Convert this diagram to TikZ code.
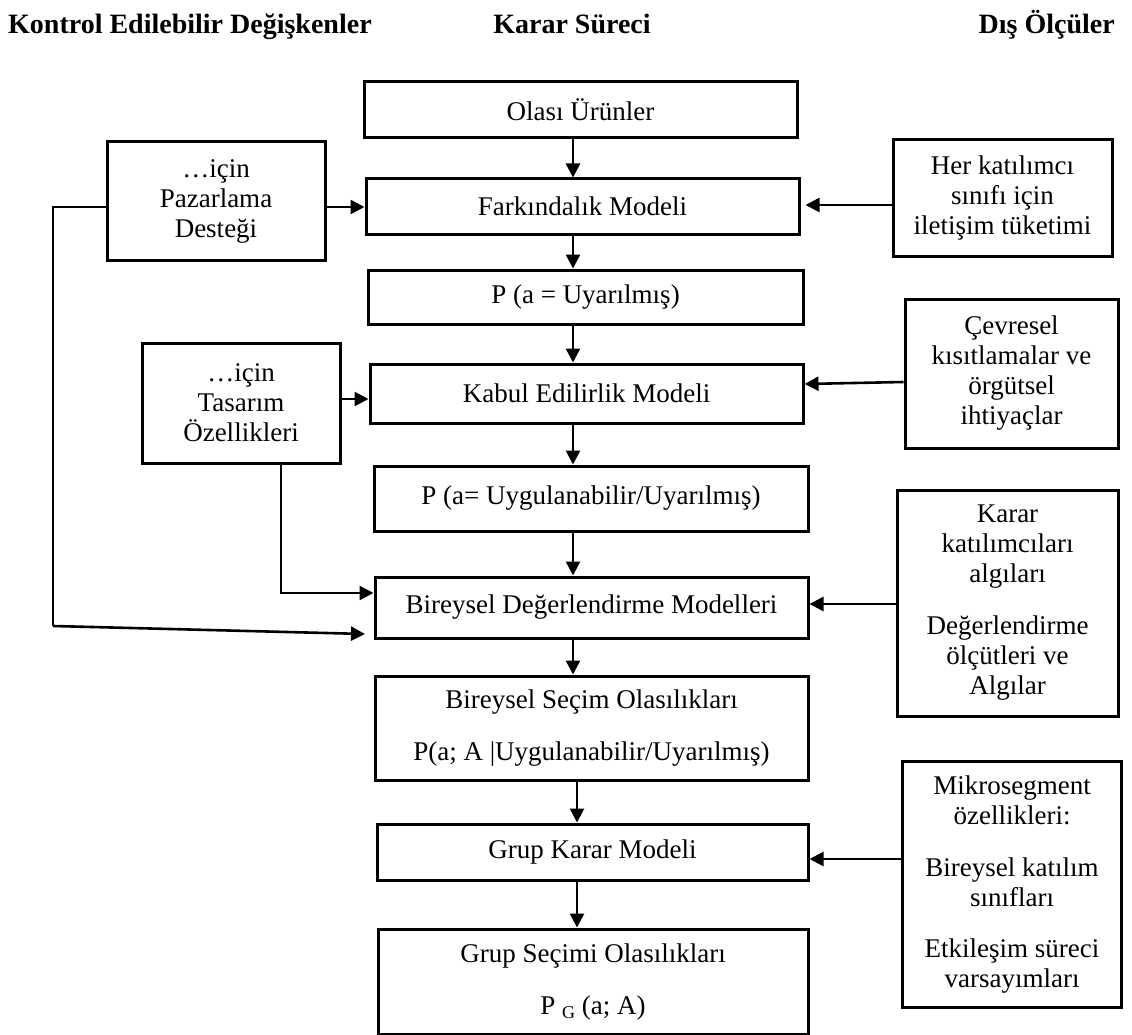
\documentclass[tikz,border=0pt]{standalone}
\usepackage{fontspec}
\setmainfont{Liberation Serif}
\usetikzlibrary{arrows.meta,calc}

\tikzset{
  box/.style={draw, line width=3pt, rectangle, inner sep=0pt, align=center,
              font=\fontsize{27}{30}\selectfont},
  arr/.style={line width=2.6pt, -{Triangle[length=14pt,width=14pt]}},
  thin/.style={line width=1.6pt},
  head/.style={font=\fontsize{28}{32}\selectfont\bfseries, inner sep=0pt}
}

\begin{document}
\begin{tikzpicture}[x=1pt,y=-1pt]
\useasboundingbox (0,0) rectangle (1132,1035);

% column headings
\node[head, anchor=base west] (h1) at (8,34) {Kontrol Edilebilir Değişkenler};
\node[head, anchor=base] (h2) at (572,34) {Karar Süreci};
\node[head, anchor=base east] (h3) at (1115,34) {Dış Ölçüler};

% central decision chain
\node[box, minimum width=433, minimum height=56] (olasi) at (580.5,110) {Olası Ürünler};
\node[box, minimum width=433, minimum height=55] (fark) at (582.5,206.5) {Farkındalık Modeli};
\node[box, minimum width=435, minimum height=54] (pua) at (585.5,297) {P (a = Uyarılmış)};
\node[box, minimum width=433, minimum height=59] (kabul) at (586.5,393.5) {Kabul Edilirlik Modeli};
\node[box, minimum width=434, minimum height=65] (pug) at (591,498.5) {P (a= Uygulanabilir/Uyarılmış)};
\node[box, minimum width=433, minimum height=61] (bdm) at (591.5,607.5) {Bireysel Değerlendirme Modelleri};
\node[box, minimum width=433, minimum height=104] (bso) at (591.5,728)
  {Bireysel Seçim Olasılıkları\\[22pt]P(a; A |Uygulanabilir/Uyarılmış)};
\node[box, minimum width=431, minimum height=56] (gkm) at (592.5,852) {Grup Karar Modeli};
\node[box, minimum width=430, minimum height=105] (gso) at (593,981.5)
  {Grup Seçimi Olasılıkları\\[22pt]P \raisebox{-4pt}{\fontsize{18}{18}\selectfont G} (a; A)};

% controllable variables
\node[box, minimum width=218, minimum height=118] (paz) at (216,201) {…için\\Pazarlama\\Desteği};
\node[box, minimum width=198, minimum height=120] (tas) at (241,403) {…için\\Tasarım\\Özellikleri};

% external measures
\node[box, minimum width=219, minimum height=116] (her) at (1002.5,198)
  {Her katılımcı\\sınıfı için\\iletişim tüketimi};
\node[box, minimum width=213, minimum height=149] (cev) at (1011.5,373.5)
  {Çevresel\\kısıtlamalar ve\\örgütsel\\ihtiyaçlar};
\node[box, minimum width=221, minimum height=226] (kat) at (1007.5,603)
  {Karar\\katılımcıları\\algıları\\[22pt]Değerlendirme\\ölçütleri ve\\Algılar};
\node[box, minimum width=219, minimum height=246] (mik) at (1012,884.5)
  {Mikrosegment\\özellikleri:\\[22pt]Bireysel katılım\\sınıfları\\[21pt]Etkileşim süreci\\varsayımları};

% main flow
\coordinate (ax) at (573,0);
\coordinate (bx) at (577,0);
\draw[arr] (olasi.south -| ax) -- (fark.north -| ax);
\draw[arr] (fark.south -| ax) -- (pua.north -| ax);
\draw[arr] (pua.south -| ax) -- (kabul.north -| ax);
\draw[arr] (kabul.south -| ax) -- (pug.north -| ax);
\draw[arr] (pug.south -| ax) -- (bdm.north -| ax);
\draw[arr] (bdm.south -| ax) -- (bso.north -| ax);
\draw[arr] (bso.south -| bx) -- (gkm.north -| bx);
\draw[arr] (gkm.south -| bx) -- (gso.north -| bx);

% inputs from the left
\draw[arr] (paz.east |- 0,207) -- (fark.west |- 0,207);
\draw[arr] (tas.east |- 0,399) -- (kabul.west |- 0,399);
\coordinate (tdrop) at (281,593);
\draw[arr] (tas.south -| tdrop) -- (tdrop) -- (bdm.west |- tdrop);
\coordinate (lt) at (53,207);
\coordinate (lb) at (53,626);
\coordinate (le) at (365,634);
\draw[thin] (paz.west |- lt) -- (lt) -- (lb);
\draw[arr] (lb) -- (le);

% inputs from the right
\draw[arr, shorten >=5pt] (her.west |- 0,205) -- (fark.east |- 0,205);
\draw[arr] (cev.west |- 0,382) -- (kabul.east |- 0,384);
\draw[arr] (kat.west |- 0,604) -- (bdm.east |- 0,604);
\draw[arr] (mik.west |- 0,859) -- (gkm.east |- 0,859);
\end{tikzpicture}
\end{document}
